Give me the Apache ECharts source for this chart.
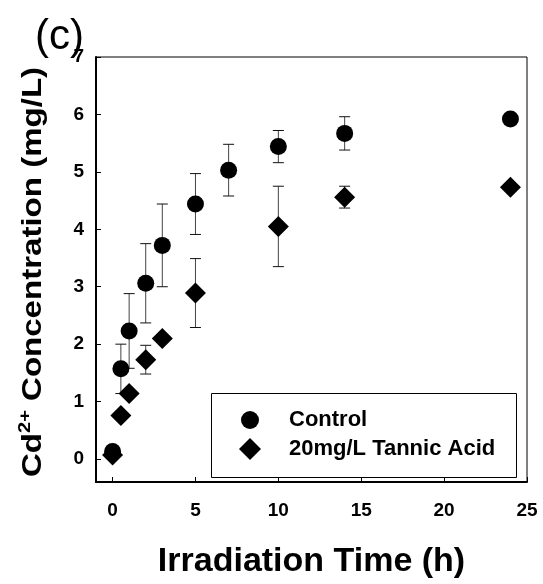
<!DOCTYPE html>
<html>
<head>
<meta charset="utf-8">
<script src="https://cdn.jsdelivr.net/npm/echarts@6/dist/echarts.min.js"></script>
<style>
  html, body { margin: 0; padding: 0; background: #fff; }
  #chart { width: 543px; height: 584px; }
</style>
</head>
<body>
<div id="chart"></div>
<script>
// data
const controlTimes = [0, 0.5, 1, 2, 3, 5, 7, 10, 14, 24];
const controlMean = [0.13, 1.57, 2.23, 3.06, 3.72, 4.44, 5.03, 5.44, 5.67, 5.92];
const controlErr = [null, 0.43, 0.65, 0.69, 0.72, 0.53, 0.45, 0.28, 0.29, null];

const tannicTimes = [0, 0.5, 1, 2, 3, 5, 10, 14, 24];
const tannicMean = [0.07, 0.76, 1.14, 1.73, 2.10, 2.89, 4.05, 4.56, 4.73];
const tannicErr = [null, null, null, 0.25, null, 0.60, 0.70, 0.19, null];

const xTicks = [0, 5, 10, 15, 20, 25];
const yTicks = [0, 1, 2, 3, 4, 5, 6, 7];

const FONT = 'Liberation Sans, Arial, sans-serif';

function pairs(xs, ys) {
  return xs.map((x, i) => [x, ys[i]]);
}

// error bars via a custom series so they go through the axes
function errorBars(name, xs, means, errs) {
  const data = [];
  xs.forEach((x, i) => {
    if (errs[i] != null) data.push([x, means[i] - errs[i], means[i] + errs[i]]);
  });
  return {
    name: name + ' err',
    type: 'custom',
    data: data,
    z: 1,
    silent: true,
    encode: { x: 0, y: [1, 2] },
    renderItem: function (params, api) {
      const lo = api.coord([api.value(0), api.value(1)]);
      const hi = api.coord([api.value(0), api.value(2)]);
      const w = 5.5;
      return {
        type: 'group',
        children: [
          { type: 'line', shape: { x1: lo[0], y1: lo[1], x2: hi[0], y2: hi[1] }, style: { stroke: '#444', lineWidth: 1 } },
          { type: 'line', shape: { x1: hi[0] - w, y1: hi[1], x2: hi[0] + w, y2: hi[1] }, style: { stroke: '#111', lineWidth: 1 } },
          { type: 'line', shape: { x1: lo[0] - w, y1: lo[1], x2: lo[0] + w, y2: lo[1] }, style: { stroke: '#111', lineWidth: 1 } }
        ]
      };
    }
  };
}

const legendText = {
  fontFamily: FONT, fontSize: 22, fontWeight: 'bold', color: '#000'
};

const chart = echarts.init(document.getElementById('chart'));

const option = {
  backgroundColor: '#fff',
  animation: false,
  textStyle: { fontFamily: FONT },
  grid: {
    left: 96, right: 16, top: 57, bottom: 96,
    show: true, borderColor: '#000', borderWidth: 1, backgroundColor: 'transparent'
  },
  // two legends so the circle and diamond can have their own sizes
  legend: [
    {
      orient: 'vertical',
      left: 241,
      top: 409,
      padding: 0,
      z: 10,
      data: [{ name: 'Control', icon: 'circle' }],
      itemWidth: 18,
      itemHeight: 18,
      selectedMode: false,
      textStyle: Object.assign({ padding: [0, 0, 0, 25] }, legendText)
    },
    {
      orient: 'vertical',
      left: 239,
      top: 438,
      padding: 0,
      z: 10,
      data: [{ name: '20mg/L Tannic Acid', icon: 'diamond' }],
      itemWidth: 22,
      itemHeight: 22,
      selectedMode: false,
      textStyle: Object.assign({ padding: [0, 0, 0, 23] }, legendText)
    }
  ],
  xAxis: {
    type: 'value',
    min: -1,
    max: 25,
    name: 'Irradiation Time (h)',
    nameLocation: 'middle',
    nameGap: 63,
    nameTextStyle: { fontFamily: FONT, fontSize: 34, fontWeight: 'bold', color: '#000' },
    splitLine: { show: false },
    axisLine: { onZero: false, lineStyle: { color: '#000', width: 2 } },
    axisTick: { inside: true, length: 5, customValues: xTicks, lineStyle: { color: '#000', width: 1 } },
    axisLabel: {
      customValues: xTicks, margin: 19,
      fontFamily: FONT, fontSize: 19, fontWeight: 'bold', color: '#000'
    }
  },
  yAxis: {
    type: 'value',
    min: -0.4,
    max: 7,
    splitLine: { show: false },
    axisLine: { show: true, onZero: false, lineStyle: { color: '#000', width: 2 } },
    axisTick: { show: true, inside: true, length: 5, customValues: yTicks, lineStyle: { color: '#000', width: 1 } },
    axisLabel: {
      customValues: yTicks, margin: 12,
      fontFamily: FONT, fontSize: 19, fontWeight: 'bold', color: '#000'
    }
  },
  graphic: [
    {
      type: 'rect',
      z: 1,
      shape: { x: 211.5, y: 393.5, width: 305, height: 84 },
      style: { fill: 'none', stroke: '#000', lineWidth: 1 }
    },
    {
      type: 'text',
      left: 35,
      top: 16,
      style: { text: '(c)', fontFamily: FONT, fontSize: 42, fill: '#000' }
    },
    {
      type: 'text',
      x: 33,
      y: 272,
      rotation: Math.PI / 2,
      scaleX: 1.18,
      style: {
        text: '{a|Cd}{s|2+}{a| Concentration (mg/L)}',
        align: 'center',
        verticalAlign: 'middle',
        rich: {
          a: { fontFamily: FONT, fontSize: 28, fontWeight: 'bold', fill: '#000', lineHeight: 32 },
          s: { fontFamily: FONT, fontSize: 17, fontWeight: 'bold', fill: '#000', verticalAlign: 'top', lineHeight: 32 }
        }
      }
    }
  ],
  series: [
    errorBars('Control', controlTimes, controlMean, controlErr),
    errorBars('20mg/L Tannic Acid', tannicTimes, tannicMean, tannicErr),
    {
      name: 'Control',
      type: 'scatter',
      symbol: 'circle',
      symbolSize: 17,
      z: 3,
      itemStyle: { color: '#000', opacity: 1 },
      data: pairs(controlTimes, controlMean)
    },
    {
      name: '20mg/L Tannic Acid',
      type: 'scatter',
      symbol: 'diamond',
      symbolSize: 21,
      z: 4,
      itemStyle: { color: '#000', opacity: 1 },
      data: pairs(tannicTimes, tannicMean)
    }
  ]
};

chart.setOption(option);
</script>
</body>
</html>
